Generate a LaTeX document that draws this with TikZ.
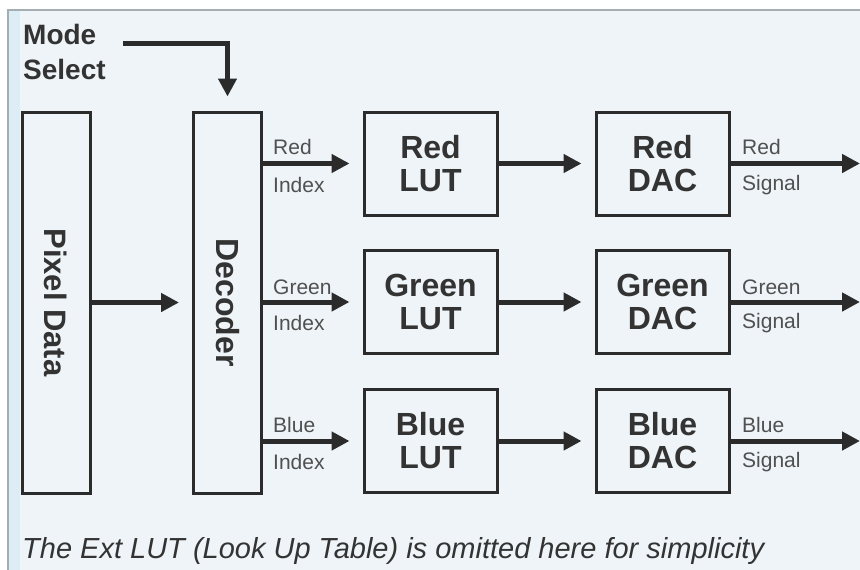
\documentclass[tikz,border=0pt]{standalone}
\usepackage{fontspec}
\setmainfont{Liberation Sans}
\usetikzlibrary{arrows.meta}
\definecolor{bgc}{HTML}{EEF4F7}
\definecolor{stripc}{HTML}{DCEDF5}
\definecolor{framec}{HTML}{A3ADB2}
\definecolor{ink}{HTML}{2B2B2B}
\definecolor{txt}{HTML}{333333}
\definecolor{lbl}{HTML}{505050}
\tikzset{
  blk/.style={draw=ink, line width=3pt, fill=bgc, inner sep=0pt, text=txt,
    font=\fontsize{32}{33}\selectfont\bfseries, align=center},
  lutbox/.style={blk, minimum width=133pt, minimum height=103pt},
  tallbox/.style={blk, minimum width=68pt, minimum height=381pt},
  arr/.style={draw=ink, line width=5pt,
    -{Triangle[length=18pt,width=18pt]}, shorten >=13pt},
  lab/.style={anchor=west, inner sep=0pt, text=lbl, font=\fontsize{21}{21}\selectfont},
}
\begin{document}
\begin{tikzpicture}[x=1pt,y=-1pt]
\useasboundingbox (0,0) rectangle (860,570);
\fill[white] (0,0) rectangle (860,570);
\fill[bgc] (8,10) rectangle (860,570);
\fill[stripc] (9,11) rectangle (20,570);
\draw[framec, line width=1.2pt] (8,570) -- (8,10) -- (860,10);

% Mode select
\node[anchor=base west, inner sep=0pt, text=txt, align=left,
  font=\fontsize{28}{35}\selectfont\bfseries] (ms) at (23,79) {Mode\\Select};
\coordinate (msa) at (123,43);

% tall boxes
\node[tallbox] (pix) at (56,302.5) {};
\node[rotate=-90, text=txt, font=\fontsize{31}{31}\selectfont\bfseries] (pixt) at (pix.center) {Pixel Data};
\node[tallbox] (dec) at (227.5,302.5) {};
\node[rotate=-90, text=txt, font=\fontsize{32}{32}\selectfont\bfseries] (dect) at (dec.center) {Decoder};

% LUTs and DACs
\node[lutbox] (rlut) at (430.5,163.5) {Red\\LUT};
\node[lutbox] (glut) at (430.5,302) {Green\\LUT};
\node[lutbox] (blut) at (430.5,441) {Blue\\LUT};
\node[lutbox] (rdac) at (662.5,163.5) {Red\\DAC};
\node[lutbox] (gdac) at (662.5,302) {Green\\DAC};
\node[lutbox] (bdac) at (662.5,441) {Blue\\DAC};

\coordinate (rout) at (860,163.5);
\coordinate (gout) at (860,302);
\coordinate (bout) at (860,441);
\coordinate (rin) at (dec.east |- rlut.west);
\coordinate (gin) at (dec.east |- glut.west);
\coordinate (bin) at (dec.east |- blut.west);

% arrows
\draw[arr, shorten >=14pt] (msa) -| (dec.north);
\draw[arr] (pix.east |- dec.west) -- (dec.west);
\draw[arr] (rin) -- (rlut.west);
\draw[arr] (gin) -- (glut.west);
\draw[arr] (bin) -- (blut.west);
\draw[arr] (rlut) -- (rdac);
\draw[arr] (glut) -- (gdac);
\draw[arr] (blut) -- (bdac);
\draw[arr, shorten >=0pt] (rdac.east) -- (rout);
\draw[arr, shorten >=0pt] (gdac.east) -- (gout);
\draw[arr, shorten >=0pt] (bdac.east) -- (bout);

% labels
\node[lab] (l1) at (273,147) {Red};
\node[lab] (l2) at (273,185) {Index};
\node[lab] (l3) at (273,287) {Green};
\node[lab] (l4) at (273,323) {Index};
\node[lab] (l5) at (273,425) {Blue};
\node[lab] (l6) at (273,462) {Index};
\node[lab] (s1) at (742,147) {Red};
\node[lab] (s2) at (742,185) {Signal};
\node[lab] (s3) at (742,287) {Green};
\node[lab] (s4) at (742,323) {Signal};
\node[lab] (s5) at (742,425) {Blue};
\node[lab] (s6) at (742,462) {Signal};

% caption
\node[anchor=base west, inner sep=0pt, text=txt,
  font=\fontsize{29}{29}\selectfont\itshape] (cap) at (22,558)
  {The Ext LUT (Look Up Table) is omitted here for simplicity};
\end{tikzpicture}
\end{document}
